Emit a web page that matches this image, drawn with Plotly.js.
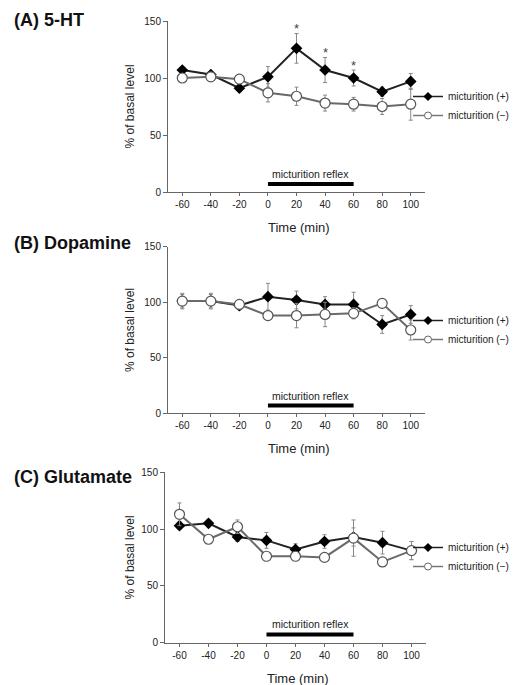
<!DOCTYPE html>
<html>
<head>
<meta charset="utf-8">
<script src="https://cdn.plot.ly/plotly-3.0.1.min.js"></script>
<style>html,body{margin:0;padding:0;background:#fff;}#chart{width:514px;height:685px;}</style>
</head>
<body>
<div id="chart"></div>
<script>
// ---- data ----
const times = [-60, -40, -20, 0, 20, 40, 60, 80, 100];
const xTickVals = [-60, -40, -20, 0, 20, 40, 60, 80, 100];
const xTickText = ['-60', '-40', '-20', '0', '20', '40', '60', '80', '100'];
const yTickVals = [0, 50, 100, 150];
const reflexWindow = [0, 60];
const panelTitles = ['(A) 5-HT', '(B) Dopamine', '(C) Glutamate'];
const seriesNames = ['micturition (+)', 'micturition (\u2212)'];

const htPlus = [107, 103, 91, 101, 126, 107, 100, 88, 97];
const htPlusErr = [3, 2, 3, 9, 13, 11, 7, 4, 7];
const htMinus = [100, 101, 99, 87, 84, 78, 77, 75, 77];
const htMinusErr = [3, 3, 3, 8, 8, 7, 6, 7, 14];
const htSig = [false, false, false, false, true, true, true, false, false];

const daPlus = [101, 101, 97, 105, 102, 98, 98, 80, 89];
const daPlusErr = [7, 7, 4, 12, 8, 7, 11, 8, 8];
const daMinus = [101, 101, 98, 88, 88, 89, 90, 99, 75];
const daMinusErr = [6, 6, 4, 4, 11, 11, 5, 3, 9];

const gluPlus = [103, 105, 93, 90, 82, 89, 93, 88, 81];
const gluPlusErr = [3, 3, 4, 7, 5, 6, 8, 10, 8];
const gluMinus = [113, 91, 102, 76, 76, 75, 92, 71, 81];
const gluMinusErr = [10, 3, 6, 3, 3, 3, 16, 3, 8];

// ---- layout helpers ----
const W = 514, H = 685;
const FONT = 'Liberation Sans, Arial, sans-serif';
const panels = [
  {plus: htPlus, plusErr: htPlusErr, minus: htMinus, minusErr: htMinusErr, sig: htSig,
   px: [168, 425], py: [21, 192], titleY: 20, legendTop: 82, xTitleY: 228},
  {plus: daPlus, plusErr: daPlusErr, minus: daMinus, minusErr: daMinusErr, sig: null,
   px: [168, 425], py: [246.7, 413.3], titleY: 243, legendTop: 306, xTitleY: 448},
  {plus: gluPlus, plusErr: gluPlusErr, minus: gluMinus, minusErr: gluMinusErr, sig: null,
   px: [165, 426], py: [472.3, 642.5], titleY: 477, legendTop: 533, xTitleY: 678}
];

const plusLine = {color: '#222', width: 2};
const minusLine = {color: '#6a6a6a', width: 2};
const plusMarker = {symbol: 'diamond', size: 9, color: '#000', line: {color: '#000', width: 0}};
const minusMarker = {symbol: 'circle', size: 10, color: '#fff', line: {color: '#555', width: 1.2}};

const data = [];
const layout = {
  width: W, height: H,
  margin: {l: 0, r: 0, t: 0, b: 0},
  paper_bgcolor: '#fff', plot_bgcolor: '#fff',
  font: {family: FONT, color: '#222'},
  showlegend: true,
  annotations: [], shapes: []
};

panels.forEach((p, i) => {
  const n = i === 0 ? '' : String(i + 1);
  const xa = 'x' + n, ya = 'y' + n;
  const lg = 'legend' + n;
  data.push({
    type: 'scatter', mode: 'lines+markers', x: times, y: p.plus, xaxis: xa, yaxis: ya,
    name: seriesNames[0], showlegend: false, line: plusLine, marker: plusMarker,
    error_y: {type: 'data', array: p.plusErr, color: '#888', thickness: 1, width: 2},
    cliponaxis: false
  });
  data.push({
    type: 'scatter', mode: 'lines+markers', x: times, y: p.minus, xaxis: xa, yaxis: ya,
    name: seriesNames[1], showlegend: false, line: minusLine, marker: minusMarker,
    error_y: {type: 'data', array: p.minusErr, color: '#888', thickness: 1, width: 2},
    cliponaxis: false
  });
  // legend entries (smaller symbols, as in the original)
  data.push({
    type: 'scatter', mode: 'lines+markers', x: [null], y: [null], xaxis: xa, yaxis: ya,
    name: seriesNames[0], legend: lg, showlegend: true,
    line: {color: '#222', width: 1.5}, marker: {symbol: 'diamond', size: 7, color: '#000'}
  });
  data.push({
    type: 'scatter', mode: 'lines+markers', x: [null], y: [null], xaxis: xa, yaxis: ya,
    name: seriesNames[1], legend: lg, showlegend: true,
    line: {color: '#777', width: 1.5}, marker: {symbol: 'circle', size: 7, color: '#fff', line: {color: '#666', width: 1}}
  });

  const axStyle = {
    showline: true, linecolor: '#666', linewidth: 1, ticks: 'outside', ticklen: 3,
    tickcolor: '#666', showgrid: false, zeroline: false, fixedrange: true,
    tickfont: {family: FONT, size: 10, color: '#222'}
  };
  layout['xaxis' + n] = Object.assign({}, axStyle, {
    domain: [p.px[0] / W, p.px[1] / W], anchor: ya, range: [-70, 110],
    tickmode: 'array', tickvals: xTickVals, ticktext: xTickText
  });
  layout['yaxis' + n] = Object.assign({}, axStyle, {
    domain: [1 - p.py[1] / H, 1 - p.py[0] / H], anchor: xa, range: [0, 150],
    tickmode: 'array', tickvals: yTickVals, ticklen: 4
  });
  layout[lg] = {
    x: 408 / W, xanchor: 'left', y: 1 - p.legendTop / H, yanchor: 'top',
    bgcolor: 'rgba(0,0,0,0)', font: {family: FONT, size: 10, color: '#222'},
    itemclick: false, itemdoubleclick: false
  };

  // panel title
  layout.annotations.push({
    xref: 'paper', yref: 'paper', x: 12 / W, y: 1 - p.titleY / H, xanchor: 'left', yanchor: 'middle',
    text: '<b>' + panelTitles[i] + '</b>', showarrow: false,
    font: {family: FONT, size: 18, color: '#111'}
  });
  // y title
  layout.annotations.push({
    xref: 'paper', yref: 'paper', x: 130 / W, y: 1 - ((p.py[0] + p.py[1]) / 2) / H,
    xanchor: 'center', yanchor: 'middle', textangle: -90,
    text: '% of basal level', showarrow: false, font: {family: FONT, size: 12, color: '#222'}
  });
  // x title
  layout.annotations.push({
    xref: 'paper', yref: 'paper', x: ((p.px[0] + p.px[1]) / 2 + 2) / W, y: 1 - p.xTitleY / H,
    xanchor: 'center', yanchor: 'middle',
    text: 'Time (min)', showarrow: false, font: {family: FONT, size: 13, color: '#222'}
  });
  // reflex bar + label
  layout.shapes.push({
    type: 'line', xref: xa, yref: ya, x0: reflexWindow[0], x1: reflexWindow[1], y0: 7, y1: 7,
    line: {color: '#000', width: 4}
  });
  layout.annotations.push({
    xref: xa, yref: ya, x: (reflexWindow[0] + reflexWindow[1]) / 2, y: 16,
    xanchor: 'center', yanchor: 'middle', text: 'micturition reflex', showarrow: false,
    font: {family: FONT, size: 10.5, color: '#222'}
  });
  // significance marks
  if (p.sig) {
    p.sig.forEach((s, k) => {
      if (!s) return;
      layout.annotations.push({
        xref: xa, yref: ya, x: times[k], y: p.plus[k] + p.plusErr[k] + 4,
        xanchor: 'center', yanchor: 'middle', text: '*', showarrow: false,
        font: {family: FONT, size: 13, color: '#444'}
      });
    });
  }
});

Plotly.newPlot('chart', data, layout, {displayModeBar: false, staticPlot: true});
</script>
</body>
</html>
